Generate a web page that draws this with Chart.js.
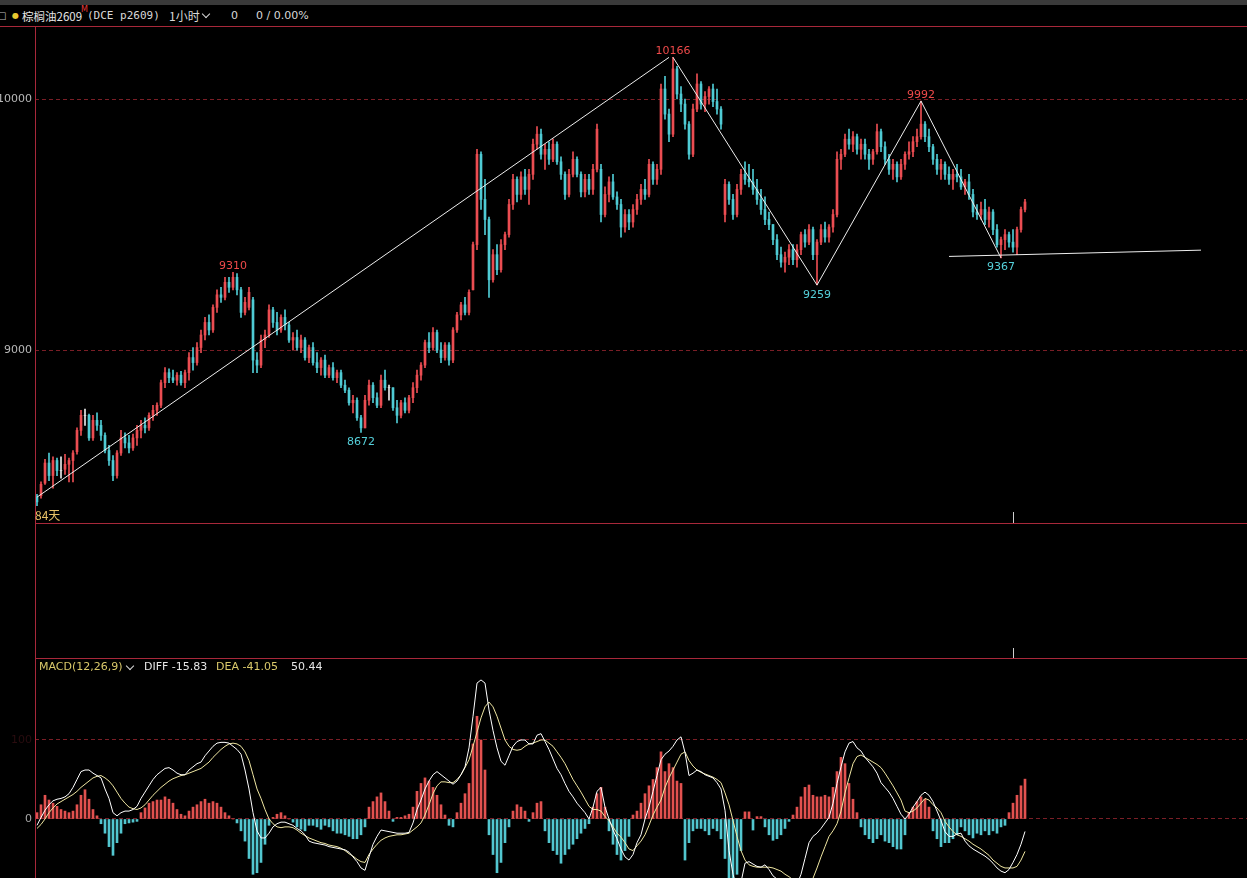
<!DOCTYPE html>
<html><head><meta charset="utf-8">
<script src="https://cdn.jsdelivr.net/npm/chart.js@4.4.1/dist/chart.umd.min.js"></script>
<style>
html,body{margin:0;padding:0;background:#000;overflow:hidden}
#wrap{position:relative;width:1247px;height:878px;background:#000;overflow:hidden;font-family:"DejaVu Sans",sans-serif}
.abs{position:absolute;white-space:nowrap;line-height:12px}
.cjk{font-family:"Noto Sans CJK SC","DejaVu Sans",sans-serif}
.chev{position:absolute;width:5px;height:5px;border-right:1.3px solid #d8d8d8;border-bottom:1.3px solid #d8d8d8;transform:rotate(45deg)}
canvas{position:absolute;left:0}
.rl{position:absolute;background:#a8283a}
</style></head><body>
<div id="wrap">
<div class="abs" style="left:0;top:0;width:1247px;height:5px;background:#3a3a3a"></div>
<div class="abs" style="left:-3px;top:10px;font-size:10px;color:#bbb">□</div>
<div class="abs" style="left:12px;top:10px;font-size:8px;color:#e8c830">●</div>
<div class="abs cjk" style="left:22px;top:10px;font-size:11.5px;color:#e6e6e6">棕榈油2609</div>
<div class="abs" style="left:81px;top:6px;font-size:8px;line-height:8px;color:#e83a3a">M</div>
<div class="abs" style="left:87px;top:10px;font-size:11px;color:#d8d8d8;font-family:'DejaVu Sans Mono',monospace">(DCE p2609)</div>
<div class="abs cjk" style="left:169px;top:10px;font-size:12px;color:#d8d8d8">1小时</div>
<div class="chev" style="left:203px;top:11px"></div>
<div class="abs" style="left:231px;top:10px;font-size:11px;color:#d8d8d8">0</div>
<div class="abs" style="left:256px;top:10px;font-size:11px;color:#d8d8d8">0 / 0.00%</div>

<canvas id="main" width="1247" height="495" style="top:27px"></canvas>
<canvas id="macd" width="1247" height="219" style="top:659px"></canvas>

<div class="rl" style="left:0;top:26px;width:1247px;height:1px"></div>
<div class="rl" style="left:35px;top:26px;width:1px;height:852px"></div>
<div class="rl" style="left:35px;top:523px;width:1212px;height:1px"></div>
<div class="rl" style="left:35px;top:658px;width:1212px;height:1px"></div>
<div class="abs" style="left:1013px;top:512px;width:1px;height:11px;background:#cfcfcf"></div>
<div class="abs" style="left:1013px;top:648px;width:1px;height:10px;background:#cfcfcf"></div>

<div class="abs cjk" style="left:35px;top:509px;font-size:12px;color:#e6c066">84天</div>

<div class="abs" style="left:39px;top:661px;font-size:11px;color:#d9c86a">MACD(12,26,9)</div>
<div class="chev" style="left:127px;top:663px;border-color:#d8d8d8"></div>
<div class="abs" style="left:144px;top:661px;font-size:11px;color:#e6e6e6">DIFF -15.83</div>
<div class="abs" style="left:216px;top:661px;font-size:11px;color:#d9c86a">DEA -41.05</div>
<div class="abs" style="left:291px;top:661px;font-size:11px;color:#e6e6e6">50.44</div>
</div>
<script>
const opens=[8415,8420,8470,8550,8500,8560,8520,8525,8545,8560,
8595,8680,8740,8740,8650,8720,8700,8660,8600,8560,
8500,8590,8650,8630,8610,8650,8680,8700,8690,8740,
8760,8780,8870,8910,8890,8880,8900,8870,8910,8970,
8950,9010,9060,9110,9080,9170,9220,9210,9270,9250,
9290,9240,9150,9170,9200,8960,8940,9040,9060,9160,
9110,9080,9130,9100,9040,9050,9010,9040,8970,9010,
8950,8930,8960,8900,8930,8890,8910,8860,8840,8790,
8800,8730,8690,8800,8860,8810,8780,8880,8850,8850,
8770,8740,8790,8760,8810,8850,8900,8940,9030,9010,
9070,9000,8970,9020,8960,9080,9140,9180,9150,9240,
9420,9780,9600,9520,9280,9380,9320,9420,9460,9580,
9680,9620,9690,9640,9700,9820,9860,9780,9800,9760,
9820,9750,9700,9620,9700,9760,9700,9630,9680,9640,
9720,9720,9540,9620,9670,9610,9580,9490,9540,9510,
9560,9600,9640,9620,9740,9680,9720,10040,9940,9860,
10120,10020,9980,9900,9780,9960,10060,9980,10010,10040,
9990,9960,9540,9660,9600,9540,9640,9700,9680,9670,
9640,9600,9560,9520,9500,9440,9380,9350,9370,9400,
9360,9400,9460,9430,9480,9380,9430,9480,9450,9490,
9540,9760,9780,9840,9820,9850,9800,9820,9780,9760,
9790,9870,9810,9760,9720,9740,9690,9740,9780,9790,
9830,9850,9900,9850,9810,9760,9720,9740,9700,9680,
9700,9690,9650,9670,9620,9550,9540,9560,9520,9550,
9480,9420,9440,9460,9430,9410,9480,9560];
const highs=[8425,8475,8565,8590,8575,8570,8575,8585,8570,8600,
8690,8760,8765,8745,8740,8750,8720,8670,8620,8580,
8600,8680,8670,8660,8665,8700,8720,8730,8750,8780,
8790,8880,8930,8925,8920,8910,8915,8920,8990,9010,
9030,9080,9130,9140,9180,9240,9250,9290,9290,9310,
9305,9250,9210,9250,9210,8990,9060,9080,9180,9170,
9150,9140,9160,9110,9070,9080,9060,9050,9020,9030,
8990,8970,8980,8940,8950,8920,8920,8880,8850,8820,
8810,8740,8820,8880,8870,8830,8900,8920,8860,8850,
8800,8800,8810,8820,8870,8920,8950,9040,9070,9090,
9080,9030,9030,9030,9090,9150,9190,9210,9240,9430,
9800,9790,9680,9530,9400,9420,9440,9470,9600,9700,
9690,9710,9720,9720,9840,9890,9880,9820,9830,9840,
9830,9770,9710,9720,9790,9770,9710,9700,9700,9740,
9900,9740,9650,9690,9700,9630,9600,9560,9560,9580,
9620,9660,9680,9760,9750,9740,10060,10090,9960,10166,
10130,10050,10000,9910,9980,10100,10070,10030,10050,10060,
10040,9970,9680,9670,9620,9660,9720,9750,9740,9720,
9680,9640,9610,9550,9500,9460,9410,9390,9420,9420,
9420,9470,9480,9500,9490,9440,9500,9510,9500,9560,
9790,9800,9860,9880,9870,9860,9840,9840,9800,9800,
9900,9880,9830,9780,9760,9750,9760,9790,9830,9850,
9880,9992,9910,9880,9820,9780,9760,9750,9730,9720,
9740,9720,9680,9700,9640,9580,9590,9600,9570,9560,
9500,9450,9480,9470,9480,9490,9570,9600];
const lows=[8380,8410,8465,8480,8450,8500,8490,8505,8475,8475,
8585,8660,8700,8640,8640,8680,8640,8590,8540,8480,
8490,8580,8610,8590,8600,8620,8650,8670,8680,8720,
8740,8770,8850,8870,8870,8860,8860,8850,8880,8920,
8940,8990,9040,9060,9070,9150,9190,9200,9230,9240,
9220,9130,9140,9160,8910,8910,8930,9010,9050,9090,
9060,9070,9080,9030,9000,9000,8990,8960,8950,8940,
8910,8900,8890,8890,8880,8870,8850,8830,8780,8750,
8720,8672,8690,8780,8790,8770,8770,8840,8800,8760,
8710,8730,8750,8750,8790,8830,8880,8930,8990,9000,
8990,8950,8960,8940,8950,9070,9120,9140,9140,9240,
9400,9560,9460,9210,9270,9300,9310,9400,9450,9560,
9590,9600,9620,9580,9680,9800,9760,9720,9740,9750,
9740,9680,9600,9610,9690,9690,9610,9610,9620,9620,
9710,9510,9530,9590,9600,9560,9450,9470,9480,9490,
9540,9580,9600,9610,9660,9660,9700,9920,9830,9850,
10000,9950,9880,9760,9770,9950,9960,9950,9980,9970,
9940,9880,9510,9580,9520,9530,9620,9660,9650,9620,
9580,9540,9500,9480,9420,9360,9330,9310,9340,9340,
9330,9380,9410,9420,9360,9259,9420,9430,9430,9470,
9530,9720,9770,9800,9790,9780,9760,9760,9720,9740,
9780,9790,9740,9700,9680,9670,9680,9720,9760,9770,
9810,9840,9830,9790,9740,9700,9680,9680,9660,9640,
9670,9640,9620,9600,9530,9520,9520,9500,9490,9460,
9410,9367,9400,9410,9390,9380,9470,9550];
const closes=[8395,8465,8550,8500,8560,8520,8520,8545,8560,8590,
8680,8740,8740,8650,8720,8700,8660,8600,8560,8500,
8590,8650,8630,8610,8650,8680,8700,8690,8740,8760,
8780,8870,8910,8890,8880,8900,8870,8910,8970,8950,
9010,9060,9110,9080,9170,9220,9210,9270,9250,9290,
9240,9150,9190,9230,8960,8940,9040,9060,9160,9110,
9080,9130,9100,9040,9050,9010,9040,8970,9010,8950,
8930,8960,8900,8930,8890,8910,8860,8840,8790,8800,
8730,8690,8800,8860,8810,8780,8880,8850,8850,8770,
8740,8790,8760,8810,8850,8900,8940,9030,9010,9070,
9000,8970,9020,8960,9080,9140,9180,9150,9230,9420,
9780,9600,9520,9280,9380,9320,9420,9460,9580,9680,
9620,9690,9640,9700,9820,9860,9780,9800,9760,9820,
9750,9700,9620,9700,9760,9700,9630,9680,9640,9720,
9880,9540,9620,9670,9610,9580,9490,9540,9510,9560,
9600,9640,9620,9740,9680,9720,10040,9940,9860,10120,
10020,9980,9900,9780,9960,10060,9980,10010,10040,9990,
9960,9900,9660,9600,9540,9640,9700,9680,9670,9640,
9600,9560,9520,9500,9440,9380,9350,9370,9400,9360,
9400,9460,9430,9480,9380,9430,9480,9450,9490,9540,
9760,9780,9840,9820,9850,9800,9820,9780,9760,9790,
9870,9810,9760,9720,9740,9690,9740,9780,9790,9830,
9850,9900,9850,9810,9760,9720,9740,9700,9680,9700,
9690,9650,9670,9620,9550,9540,9560,9520,9550,9480,
9420,9440,9460,9430,9410,9480,9560,9590];

const diffVals=[-8,2,11,18,23,25,26,28,32,40,
50,60,62,62,58,55,52,38,26,8,
4,8,10,10,12,16,26,34,42,50,
56,60,64,65,62,58,56,56,62,66,
70,72,80,86,92,96,97,97,96,92,
88,82,62,38,8,-15,-24,-24,-18,-10,
-6,-4,-4,-6,-8,-12,-15,-20,-28,-30,
-31,-32,-33,-35,-36,-37,-38,-39,-42,-48,
-54,-62,-65,-48,-32,-22,-14,-15,-16,-17,
-18,-18,-18,-17,-5,12,24,38,48,56,
60,56,52,48,44,48,56,66,90,130,
172,176,172,138,112,90,73,68,80,92,
98,100,100,95,95,106,108,98,88,76,
64,56,45,35,28,20,14,8,0,15,
35,40,15,0,-14,-25,-38,-48,-52,-45,
-30,-20,0,15,35,55,75,82,86,92,
100,104,84,55,58,62,60,56,54,52,
46,38,11,-40,-70,-88,-80,-56,-54,-57,
-60,-61,-58,-64,-72,-76,-80,-84,-86,-85,
-83,-70,-50,-30,-22,-18,-12,-5,2,20,
45,66,85,96,98,90,86,78,72,66,
58,46,40,34,26,16,6,0,6,15,
22,30,34,30,22,10,-2,-16,-22,-22,
-19,-18,-28,-34,-38,-41,-44,-47,-51,-56,
-62,-66,-68,-64,-55,-45,-32,-15.83];
const deaVals=[-12,-7,0,8,14,19,22,25,28,31,
35,40,44,48,52,54,55,52,48,42,
34,26,20,15,13,12,14,18,24,30,
35,40,44,48,51,53,55,56,58,60,
62,64,68,72,78,83,88,92,95,96,
95,92,85,74,56,38,26,12,0,-6,
-10,-11,-10,-10,-11,-14,-18,-21,-24,-26,
-28,-30,-31,-33,-34,-35,-37,-40,-44,-47,
-51,-54,-55,-45,-38,-32,-27,-24,-22,-21,
-20,-20,-19,-18,-14,-10,-5,5,18,32,
42,47,47,46,46,50,56,65,75,92,
110,128,142,148,142,130,115,100,92,88,
87,88,92,95,96,98,100,100,96,92,
85,78,70,60,50,42,34,25,16,12,
12,10,3,-2,-10,-18,-23,-30,-38,-40,
-34,-28,-20,-8,5,15,24,40,52,62,
72,82,85,74,67,62,59,57,55,53,
50,46,33,18,-2,-22,-40,-52,-58,-60,
-61,-61,-61,-61,-62,-64,-66,-70,-73,-77,
-82,-85,-85,-84,-75,-62,-48,-35,-22,-15,
-6,10,33,52,70,79,81,78,75,72,
69,65,58,50,42,33,24,10,8,10,
14,20,26,24,18,14,8,-3,-10,-16,
-20,-22,-25,-28,-32,-35,-38,-42,-46,-52,
-56,-60,-62,-62,-62,-60,-52,-41.05];
const macdVals=[8,18,30,24,20,16,12,10,8,10,
18,30,37,25,12,4,-6,-18,-35,-46,
-30,-18,-6,-5,-4,-3,8,14,20,22,
24,24,28,25,20,12,6,4,10,15,
18,22,25,20,22,20,15,8,4,0,
-5,-15,-28,-50,-70,-68,-55,-32,-8,2,
6,8,4,0,-4,-10,-13,-15,-8,-8,
-10,-13,-8,-10,-15,-18,-18,-20,-22,-25,
-25,-20,-10,15,22,28,33,22,10,-3,
2,2,4,6,15,35,45,52,48,40,
30,18,5,-8,-10,8,20,32,45,95,
130,100,62,-20,-45,-68,-55,-30,-10,10,
18,15,10,-3,8,20,22,-15,-30,-40,
-45,-56,-45,-38,-32,-25,-18,-12,-6,15,
32,40,15,-15,-32,-45,-52,-40,-22,5,
10,20,32,42,50,65,85,60,70,65,
48,45,-52,-30,-15,-12,-12,-15,-20,-12,
-15,-25,-50,-75,-80,-70,-40,9,9,-14,
3,3,-10,-20,-27,-25,-20,-12,-3,5,
15,28,40,43,30,28,28,30,28,40,
60,78,70,45,25,8,-10,-20,-25,-30,
-25,-20,-28,-30,-35,-38,-38,-20,8,15,
22,28,25,15,-15,-25,-35,-30,-30,-25,
-20,-10,-15,-20,-24,-18,-20,-15,-20,-15,
-18,-10,-8,8,20,30,42,50.44];

const priceTicks=[9000,10000];
const macdTicks=[0,100];
const trendIdx=[0,158], trendVal=[8414,10166];
const zigIdx=[159,195,221,241], zigVal=[10166,9259,9992,9367];
const supIdx=[228,291], supVal=[9373,9398];
const peakIdx=[49,81,159,195,221,241];
const peakVal=[9310,8672,10166,9259,9992,9367];
const peakHigh=[true,false,true,false,true,false];

const slotCount=303;
const labels=Array.from({length:slotCount},(_,k)=>String(k));
const UP='#eb4d52', DOWN='#4fcbd4', FLAT='#e8e8e8';
const candleColor=k=>closes[k]>opens[k]?UP:(closes[k]<opens[k]?DOWN:FLAT);
function sparse(idx,vals){const a=new Array(slotCount).fill(null);idx.forEach((p,j)=>{a[p]=vals[j];});return a;}

function axisLabels(values,colorFn){
  return {id:'axisLabels',afterDraw(chart){
    const ctx=chart.ctx,y=chart.scales.y;
    ctx.save();ctx.font='11px "DejaVu Sans"';ctx.textAlign='right';ctx.textBaseline='middle';
    values.forEach(v=>{ctx.fillStyle=colorFn(v);ctx.fillText(String(v),32,y.getPixelForValue(v));});
    ctx.restore();
  }};
}
const peakLabels={id:'peakLabels',afterDatasetsDraw(chart){
  const ctx=chart.ctx,x=chart.scales.x,y=chart.scales.y;
  ctx.save();ctx.font='11px "DejaVu Sans"';ctx.textAlign='center';ctx.textBaseline='alphabetic';
  peakIdx.forEach((p,j)=>{
    const px=x.getPixelForValue(p),py=y.getPixelForValue(peakVal[j]);
    ctx.fillStyle=peakHigh[j]?'#f04a4a':'#55d0da';
    ctx.fillText(String(peakVal[j]),px,peakHigh[j]?py-3:py+12.5);
  });
  ctx.restore();
}};

function yAxis(min,max,ticks){
  return {min,max,bounds:'data',
    afterFit:s=>{s.width=35;},
    afterBuildTicks:a=>{a.ticks=ticks.map(v=>({value:v}));},
    ticks:{display:false},
    grid:{color:'#7a1e26',lineWidth:1,drawTicks:false},
    border:{display:false,dash:[4,3]}};
}
const common={responsive:false,devicePixelRatio:1,animation:false,events:[],
  layout:{padding:0},plugins:{legend:{display:false},tooltip:{enabled:false}}};

new Chart(document.getElementById('main'),{
  type:'bar',
  data:{labels,datasets:[
    {type:'bar',data:lows.map((l,k)=>[l,highs[k]]),barThickness:1,grouped:false,borderWidth:0,
      backgroundColor:c=>candleColor(c.dataIndex),order:3},
    {type:'bar',data:opens.map((o,k)=>[o,closes[k]]),barThickness:2,grouped:false,borderWidth:0,
      backgroundColor:c=>candleColor(c.dataIndex),order:2},
    {type:'line',data:sparse(trendIdx,trendVal),borderColor:'#eeeeee',borderWidth:1,pointRadius:0,spanGaps:true,fill:false,order:1},
    {type:'line',data:sparse(zigIdx,zigVal),borderColor:'#eeeeee',borderWidth:1,pointRadius:0,spanGaps:true,fill:false,order:1},
    {type:'line',data:sparse(supIdx,supVal),borderColor:'#eeeeee',borderWidth:1,pointRadius:0,spanGaps:true,fill:false,order:1}
  ]},
  options:Object.assign({},common,{scales:{
    x:{display:false,offset:true},
    y:yAxis(8315,10287,priceTicks)
  }}),
  plugins:[axisLabels(priceTicks,()=>'#b8b8b8'),peakLabels]
});

new Chart(document.getElementById('macd'),{
  type:'bar',
  data:{labels,datasets:[
    {type:'bar',data:macdVals,barThickness:2,borderWidth:0,
      backgroundColor:c=>macdVals[c.dataIndex]>=0?'#e2514f':'#52c6cf',order:3},
    {type:'line',data:deaVals,borderColor:'#efe6a2',borderWidth:1,pointRadius:0,fill:false,order:2},
    {type:'line',data:diffVals,borderColor:'#ffffff',borderWidth:1,pointRadius:0,fill:false,order:1}
  ]},
  options:Object.assign({},common,{scales:{
    x:{display:false,offset:true},
    y:yAxis(-74.7,202.5,macdTicks)
  }}),
  plugins:[axisLabels(macdTicks,v=>v===0?'#a8a8a8':'#2a0c0f')]
});
</script>
</body></html>
